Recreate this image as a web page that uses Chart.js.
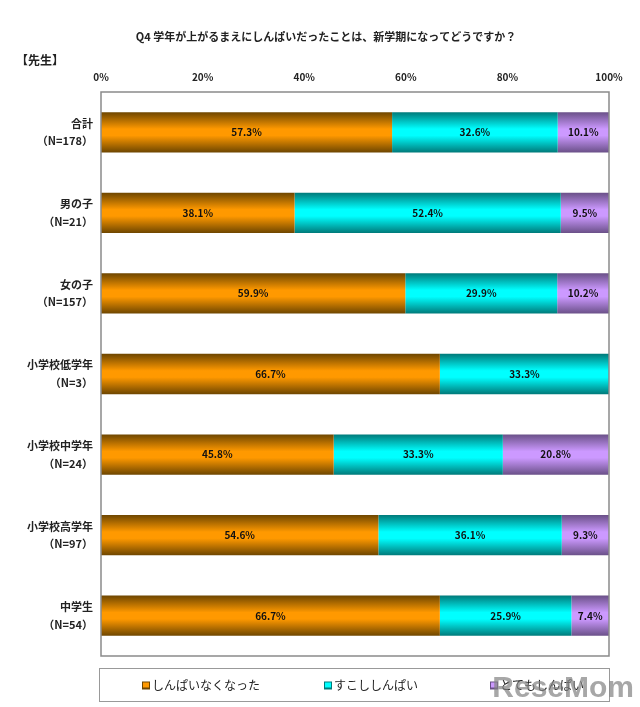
<!DOCTYPE html>
<html>
<head>
<meta charset="utf-8">
<script src="https://cdn.jsdelivr.net/npm/chart.js@4"></script>
<style>
  html, body { margin: 0; padding: 0; background: #fff; }
  #wrap { width: 640px; height: 707px; position: relative; }
</style>
</head>
<body>
<div id="wrap"><canvas id="chart" width="640" height="707"></canvas></div>
<script>
// chart data
const categories = [
    ['合計', '（N=178）'],
    ['男の子', '（N=21）'],
    ['女の子', '（N=157）'],
    ['小学校低学年', '（N=3）'],
    ['小学校中学年', '（N=24）'],
    ['小学校高学年', '（N=97）'],
    ['中学生', '（N=54）']
];
const seriesNames = ['しんぱいなくなった', 'すこししんぱい', 'とてもしんぱい'];
const noLongerWorried = [57.3, 38.1, 59.9, 66.7, 45.8, 54.6, 66.7];
const littleWorried = [32.6, 52.4, 29.9, 33.3, 33.3, 36.1, 25.9];
const veryWorried = [10.1, 9.5, 10.2, 0, 20.8, 9.3, 7.4];
const xTicks = [0, 20, 40, 60, 80, 100];

const titleText = 'Q4 学年が上がるまえにしんぱいだったことは、新学期になってどうですか？';
const groupText = '【先生】';

const FONT = '"Noto Sans CJK JP", "DejaVu Sans", sans-serif';

// [edge colour, middle colour] for the shaded bars
const shades = [
    ['#6e4600', '#ff9900'],
    ['#007a7a', '#00ffff'],
    ['#6a5088', '#cc99ff']
];

function barFill(idx) {
    return function(ctx) {
        const chart = ctx.chart;
        const area = chart.chartArea;
        if (!area) return shades[idx][1];
        const y = chart.scales.y.getPixelForValue(ctx.dataIndex);
        const half = area.height / categories.length * 0.25;
        const g = chart.ctx.createLinearGradient(0, y - half, 0, y + half);
        g.addColorStop(0, shades[idx][0]);
        g.addColorStop(0.42, shades[idx][1]);
        g.addColorStop(0.58, shades[idx][1]);
        g.addColorStop(1, shades[idx][0]);
        return g;
    };
}

// titles, frame, value labels, legend box
const decorations = {
    id: 'decorations',
    beforeDraw(chart) {
        const c = chart.ctx;
        c.save();
        c.fillStyle = '#fff';
        c.fillRect(0, 0, chart.width, chart.height);
        c.fillStyle = '#222';
        c.font = 'bold 11px ' + FONT;
        c.textAlign = 'center';
        c.textBaseline = 'middle';
        c.fillText(titleText, 326, 37);
        c.font = 'bold 12px ' + FONT;
        c.textAlign = 'left';
        c.fillText(groupText, 16, 60);
        c.restore();
    },
    afterDatasetsDraw(chart) {
        const c = chart.ctx;
        const a = chart.chartArea;
        c.save();
        c.font = 'bold 10px ' + FONT;
        c.fillStyle = '#111';
        c.textAlign = 'center';
        c.textBaseline = 'middle';
        chart.data.datasets.forEach((ds, i) => {
            chart.getDatasetMeta(i).data.forEach((bar, j) => {
                const v = ds.data[j];
                if (!v) return;
                c.fillText(v.toFixed(1) + '%', (bar.x + bar.base) / 2, bar.y);
            });
        });
        // plot frame
        c.strokeStyle = '#8a8a8a';
        c.lineWidth = 1.5;
        c.strokeRect(a.left, a.top, a.right - a.left, a.bottom - a.top);
        // legend box
        const top = a.bottom + 12, h = 33;
        c.lineWidth = 1;
        c.strokeStyle = '#999';
        c.strokeRect(a.left - 1.5, top + 0.5, a.right - a.left + 2, h);
        const xs = [142, 324, 490];
        c.font = '12px ' + FONT;
        c.textAlign = 'left';
        chart.data.datasets.forEach((ds, i) => {
            const cy = top + h / 2 + 1;
            c.fillStyle = shades[i][0];
            c.fillRect(xs[i], cy - 4, 8, 8);
            c.fillStyle = shades[i][1];
            c.fillRect(xs[i] + 1, cy - 3, 6, 5);
            c.fillStyle = '#222';
            c.fillText(ds.label, xs[i] + 10, cy);
        });
        // site watermark
        c.font = 'bold 30px "Liberation Sans", sans-serif';
        c.fillStyle = 'rgba(130,130,130,0.7)';
        c.textAlign = 'right';
        c.fillText('ReseMom', 634, top + h / 2 + 4);
        c.restore();
    }
};

const seriesValues = [noLongerWorried, littleWorried, veryWorried];

new Chart(document.getElementById('chart'), {
    type: 'bar',
    data: {
        labels: categories,
        datasets: seriesValues.map((vals, i) => ({
            label: seriesNames[i],
            data: vals,
            backgroundColor: barFill(i),
            borderWidth: 0,
            barPercentage: 0.5,
            categoryPercentage: 1
        }))
    },
    options: {
        indexAxis: 'y',
        responsive: false,
        animation: false,
        layout: { padding: { left: 0, top: 0, right: 31, bottom: 51 } },
        plugins: {
            legend: { display: false },
            title: { display: false },
            tooltip: { enabled: false }
        },
        scales: {
            x: {
                position: 'top',
                stacked: true,
                min: 0,
                max: 100,
                afterFit(scale) { scale.height = 92; },
                afterBuildTicks(scale) { scale.ticks = xTicks.map(v => ({ value: v })); },
                grid: { display: false, drawTicks: false },
                border: { display: false },
                ticks: {
                    padding: 9,
                    color: '#222',
                    font: { family: FONT, size: 10, weight: 'bold' },
                    callback: v => v + '%'
                }
            },
            y: {
                stacked: true,
                afterFit(scale) { scale.width = 101; },
                grid: { display: false, drawTicks: false },
                border: { display: false },
                ticks: {
                    padding: 8,
                    color: '#222',
                    font: { family: FONT, size: 11, weight: 'bold', lineHeight: 1.6 }
                }
            }
        }
    },
    plugins: [decorations]
});
</script>
</body>
</html>
